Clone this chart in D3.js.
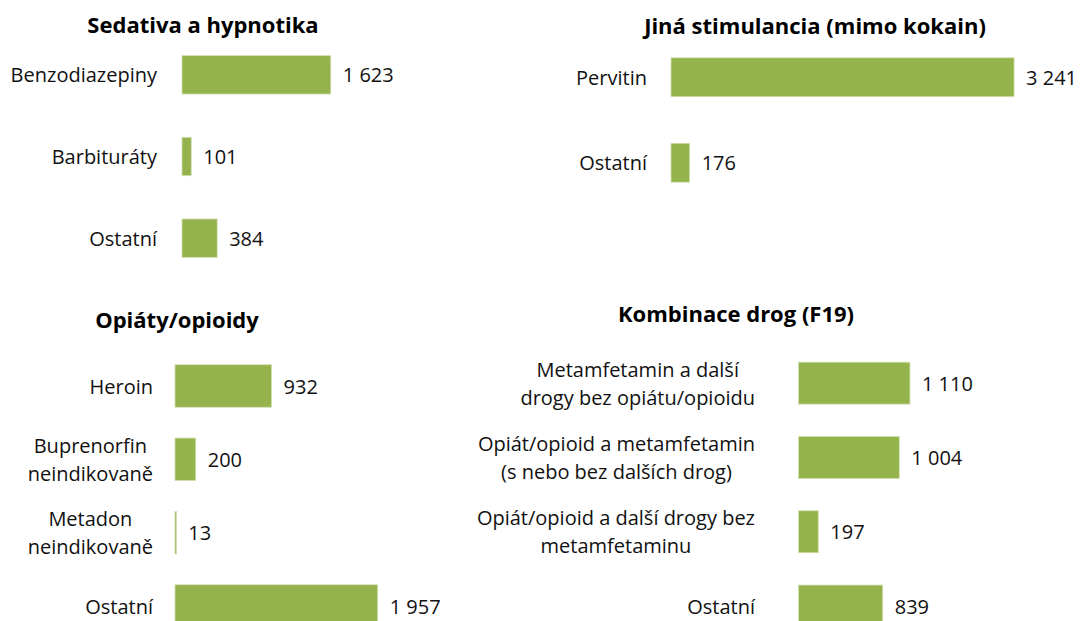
<!DOCTYPE html>
<html>
<head>
<meta charset="utf-8">
<script src="https://cdn.jsdelivr.net/npm/d3@7"></script>
<style>
  body { margin: 0; background: #fff; }
  svg { display: block; font-family: "Open Sans", "Noto Sans", sans-serif; }
  .title { font-weight: 700; font-size: 22px; fill: #000; }
  .cat, .val { font-size: 20px; fill: #111; }
</style>
</head>
<body>
<div id="chart"></div>
<script>
// Sedativa a hypnotika
const sedCategories = [["Benzodiazepiny"], ["Barbituráty"], ["Ostatní"]];
const sedValues = [1623, 101, 384];

// Jiná stimulancia
const stimCategories = [["Pervitin"], ["Ostatní"]];
const stimValues = [3241, 176];

// Opiáty/opioidy
const opiCategories = [["Heroin"], ["Buprenorfin", "neindikovaně"], ["Metadon", "neindikovaně"], ["Ostatní"]];
const opiValues = [932, 200, 13, 1957];

// Kombinace drog
const kombCategories = [
    ["Metamfetamin a další", "drogy bez opiátu/opioidu"],
    ["Opiát/opioid a metamfetamin", "(s nebo bez dalších drog)"],
    ["Opiát/opioid a další drogy bez", "metamfetaminu"],
    ["Ostatní"]
];
const kombValues = [1110, 1004, 197, 839];

const width = 1081;
const height = 621;
const barColor = "#95b34c";
const fontSize = 20;
const lineHeight = 28;

const cz = d3.formatLocale({ decimal: ",", thousands: "\u00a0", grouping: [3], currency: ["", " Kč"] });
const fmt = cz.format(",d");

// panel layout: title position, x range for axis domain, y range of the rows
const panels = [
    { title: "Sedativa a hypnotika", tx: 203, ty: 33, cats: sedCategories, vals: sedValues,
      x0: 182, x1: 347, max: 1800, y0: 34, y1: 279, pad: 0.53, labelX: 157 },
    { title: "Jiná stimulancia (mimo kokain)", tx: 815, ty: 34, cats: stimCategories, vals: stimValues,
      x0: 671, x1: 1041.5, max: 3500, y0: 34.5, y1: 205.5, pad: 0.545, labelX: 647 },
    { title: "Opiáty/opioidy", tx: 177, ty: 328, cats: opiCategories, vals: opiValues,
      x0: 175, x1: 434, max: 2500, y0: 349.3, y1: 642.7, pad: 0.42, labelX: 153 },
    { title: "Kombinace drog (F19)", tx: 736, ty: 322, cats: kombCategories, vals: kombValues,
      x0: 798.5, x1: 919, max: 1200, y0: 346, y1: 643.2, pad: 0.435, labelX: 755 }
];

const svg = d3.select("#chart").append("svg")
    .attr("width", width)
    .attr("height", height);

panels.forEach(p => {
    const g = svg.append("g");
    const data = p.vals.map((v, i) => ({ value: v, lines: p.cats[i], key: i }));

    const x = d3.scaleLinear().domain([0, p.max]).range([p.x0, p.x1]);
    const y = d3.scaleBand()
        .domain(data.map(d => d.key))
        .range([p.y0, p.y1])
        .paddingInner(p.pad)
        .paddingOuter(p.pad / 2);

    g.append("text")
        .attr("class", "title")
        .attr("x", p.tx)
        .attr("y", p.ty)
        .attr("text-anchor", "middle")
        .text(p.title);

    g.selectAll("rect")
        .data(data)
        .join("rect")
        .attr("x", x(0))
        .attr("y", d => y(d.key))
        .attr("width", d => Math.max(1.5, x(d.value) - x(0)))
        .attr("height", y.bandwidth())
        .attr("fill", barColor)
        .attr("stroke", "#d3e0b4")
        .attr("stroke-width", 0.8);

    g.selectAll(".val")
        .data(data)
        .join("text")
        .attr("class", "val")
        .attr("x", d => x(d.value) + 12)
        .attr("y", d => y(d.key) + y.bandwidth() / 2)
        .attr("dy", "0.38em")
        .text(d => fmt(d.value));

    // category labels: lines centred on each other, block right-aligned
    const labels = g.selectAll(".cat")
        .data(data)
        .join("text")
        .attr("class", "cat")
        .attr("y", d => y(d.key) + y.bandwidth() / 2);

    labels.each(function(d) {
        const t = d3.select(this);
        const n = d.lines.length;
        d.lines.forEach((line, i) => {
            t.append("tspan")
                .attr("dy", i === 0 ? (0.38 * fontSize - (n - 1) * lineHeight / 2) : lineHeight)
                .text(line);
        });
        const spans = t.selectAll("tspan").nodes();
        const w = d3.max(spans, s => s.getComputedTextLength());
        t.attr("text-anchor", "middle");
        t.selectAll("tspan").attr("x", p.labelX - w / 2);
    });
});
</script>
</body>
</html>
